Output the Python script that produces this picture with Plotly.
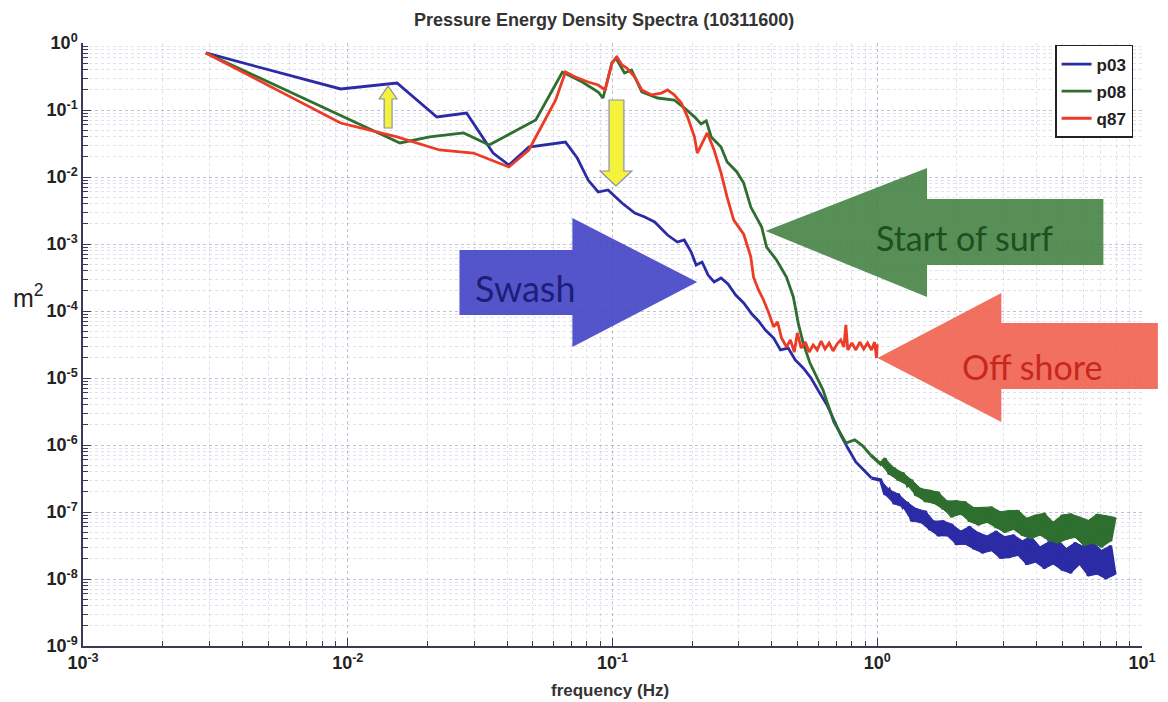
import plotly.graph_objects as go

# ---------------- data ----------------
p03_f = [2.91e-3, 9.4e-3, 1.535e-2, 2.17e-2, 2.81e-2, 3.54e-2, 4.06e-2, 4.83e-2, 6.64e-2, 7.36e-2,
         8.09e-2, 8.83e-2, 9.62e-2, 0.1086, 0.1214, 0.1324, 0.1443, 0.1614, 0.1758, 0.1866,
         0.1982, 0.207, 0.218, 0.2296, 0.242, 0.257, 0.273, 0.292, 0.313, 0.336,
         0.356, 0.378, 0.406, 0.431, 0.461, 0.490, 0.525, 0.562, 0.603, 0.646,
         0.686, 0.728, 0.774, 0.83, 0.889, 0.951]
p03_v = [0.71, 0.206, 0.253, 7.87e-2, 9.0e-2, 2.28e-2, 1.51e-2, 2.8e-2, 3.33e-2, 1.92e-2,
         9.0e-3, 5.97e-3, 6.4e-3, 4.09e-3, 2.9e-3, 2.53e-3, 2.13e-3, 1.36e-3, 1.07e-3, 1.15e-3,
         7.6e-4, 4.86e-4, 5.38e-4, 3.44e-4, 2.71e-4, 3.11e-4, 2.53e-4, 1.73e-4, 1.32e-4, 9.0e-5,
         7.1e-5, 5.2e-5, 3.95e-5, 2.62e-5, 2.8e-5, 1.86e-5, 1.41e-5, 1.0e-5, 6.2e-6, 3.95e-6,
         2.36e-6, 1.41e-6, 9.0e-7, 5.6e-7, 4.24e-7, 3.21e-7]

p08_f = [2.91e-3, 9.4e-3, 1.575e-2, 2.04e-2, 2.74e-2, 3.42e-2, 5.13e-2, 6.47e-2, 7.69e-2, 8.83e-2,
         9.21e-2, 9.95e-2, 0.103, 0.111, 0.118, 0.129, 0.148, 0.171, 0.187, 0.204,
         0.216, 0.226, 0.236, 0.257, 0.271, 0.295, 0.313, 0.333, 0.350, 0.366,
         0.382, 0.416, 0.454, 0.482, 0.503, 0.525, 0.557, 0.624, 0.686, 0.723,
         0.761, 0.822, 0.881, 0.944]
p08_v = [0.71, 8.4e-2, 3.22e-2, 3.96e-2, 4.54e-2, 3.0e-2, 7.1e-2, 0.369, 0.262, 0.186,
         0.151, 0.503, 0.597, 0.357, 0.395, 0.186, 0.151, 0.141, 0.107, 7.9e-2,
         6.2e-2, 6.9e-2, 3.96e-2, 2.8e-2, 1.67e-2, 1.19e-2, 8.1e-3, 3.56e-3, 2.53e-3, 1.79e-3,
         9.0e-4, 5.8e-4, 3.2e-4, 1.62e-4, 6.6e-5, 3.33e-5, 1.67e-5, 6.6e-6, 2.2e-6, 1.56e-6,
         1.07e-6, 1.19e-6, 9.7e-7, 7.1e-7]

# high-frequency (noisy) part shared by p03 and p08; values alternate peak / trough
f_hi = [1.03, 1.07, 1.11, 1.16, 1.2, 1.25, 1.3, 1.35, 1.4, 1.46,
        1.52, 1.58, 1.64, 1.7, 1.77, 1.84, 1.91, 1.99, 2.07, 2.15,
        2.23, 2.32, 2.41, 2.5, 2.6, 2.7, 2.81, 2.92, 3.03, 3.15,
        3.27, 3.4, 3.53, 3.67, 3.81, 3.96, 4.12, 4.28, 4.45, 4.62,
        4.8, 4.99, 5.18, 5.38, 5.59, 5.81, 6.04, 6.27, 6.52, 6.77,
        7.04, 7.31, 7.6, 7.9]
p03_hi = [3.0e-7, 1.82e-7, 2.15e-7, 1.32e-7, 1.86e-7, 1.19e-7, 1.39e-7, 7.3e-8, 1.13e-7, 6.95e-8,
          1.03e-7, 5.4e-8, 7.3e-8, 4.4e-8, 7.4e-8, 4.4e-8, 6.6e-8, 3.26e-8, 5.2e-8, 3.3e-8,
          6.1e-8, 2.79e-8, 4.93e-8, 2.44e-8, 4.4e-8, 2.64e-8, 5.2e-8, 2.03e-8, 4.3e-8, 2.08e-8,
          4.55e-8, 2.25e-8, 3.73e-8, 1.63e-8, 4.33e-8, 1.78e-8, 3.03e-8, 1.43e-8, 3.6e-8, 1.67e-8,
          3.9e-8, 1.35e-8, 2.87e-8, 1.22e-8, 3.5e-8, 1.63e-8, 3.05e-8, 1.11e-8, 3.5e-8, 1.18e-8,
          2.69e-8, 1.0e-8, 3.15e-8, 1.16e-8]
p08_hi = [5.2e-7, 6.3e-7, 3.66e-7, 4.52e-7, 2.97e-7, 3.84e-7, 2.52e-7, 3.0e-7, 1.76e-7, 2.24e-7,
          1.43e-7, 2.11e-7, 1.34e-7, 1.98e-7, 1.11e-7, 1.46e-7, 8.4e-8, 1.47e-7, 9.3e-8, 1.42e-7,
          7.2e-8, 1.16e-7, 6.4e-8, 1.17e-7, 7.0e-8, 1.19e-7, 5.8e-8, 1.01e-7, 4.94e-8, 1.05e-7,
          5.5e-8, 1.06e-7, 4.46e-8, 8.1e-8, 3.99e-8, 9.0e-8, 4.52e-8, 9.6e-8, 3.74e-8, 7.1e-8,
          3.44e-8, 9.0e-8, 3.9e-8, 9.4e-8, 4.2e-8, 8.4e-8, 3.13e-8, 7.5e-8, 3.42e-8, 9.3e-8,
          2.98e-8, 8.8e-8, 3.66e-8, 8.3e-8]

q87_f = [2.91e-3, 9.4e-3, 1.535e-2, 2.22e-2, 2.98e-2, 4.06e-2, 4.83e-2, 6.1e-2, 6.64e-2, 7.24e-2,
         8.09e-2, 8.83e-2, 9.38e-2, 9.95e-2, 0.104, 0.1086, 0.1133, 0.1214, 0.129, 0.1406,
         0.153, 0.1614, 0.171, 0.182, 0.192, 0.204, 0.209, 0.218, 0.228, 0.242,
         0.257, 0.271, 0.287, 0.313, 0.333, 0.341, 0.356, 0.372, 0.388, 0.406,
         0.42, 0.435, 0.454, 0.47, 0.486, 0.499, 0.516, 0.535, 0.553, 0.573,
         0.593, 0.614, 0.635, 0.658, 0.681, 0.705, 0.728, 0.748, 0.761, 0.774,
         0.802, 0.83, 0.859, 0.889, 0.919, 0.951, 0.977, 0.994, 1.0]
q87_v = [0.71, 6.4e-2, 3.96e-2, 2.53e-2, 2.28e-2, 1.41e-2, 2.53e-2, 0.141, 0.369, 0.311,
         0.262, 0.236, 0.199, 0.503, 0.618, 0.47, 0.424, 0.311, 0.199, 0.168,
         0.179, 0.199, 0.168, 0.127, 7.9e-2, 3.96e-2, 2.28e-2, 3.22e-2, 4.54e-2, 2.53e-2,
         1.15e-2, 5.0e-3, 2.28e-3, 1.4e-3, 6.4e-4, 3.2e-4, 2.06e-4, 1.46e-4, 9.7e-5, 5.8e-5,
         6.9e-5, 3.95e-5, 2.9e-5, 3.7e-5, 2.44e-5, 4.7e-5, 2.8e-5, 3.44e-5, 2.44e-5, 3.11e-5,
         2.62e-5, 3.56e-5, 2.71e-5, 3.33e-5, 2.53e-5, 3.21e-5, 3.7e-5, 2.9e-5, 6.2e-5, 2.62e-5,
         3.33e-5, 2.62e-5, 3.44e-5, 2.71e-5, 3.33e-5, 2.62e-5, 3.44e-5, 1.99e-5, 3.21e-5]

series_names = ["p03", "p08", "q87"]
series_colors = ["#2b2ba6", "#2e6e2e", "#ec3b26"]

x_tick_vals = [1e-3, 1e-2, 1e-1, 1e0, 1e1]
x_tick_text = ["10<sup>-3</sup>", "10<sup>-2</sup>", "10<sup>-1</sup>", "10<sup>0</sup>", "10<sup>1</sup>"]
y_tick_vals = [1e-9, 1e-8, 1e-7, 1e-6, 1e-5, 1e-4, 1e-3, 1e-2, 1e-1, 1e0]
y_tick_text = ["10<sup>-9</sup>", "10<sup>-8</sup>", "10<sup>-7</sup>", "10<sup>-6</sup>", "10<sup>-5</sup>",
               "10<sup>-4</sup>", "10<sup>-3</sup>", "10<sup>-2</sup>", "10<sup>-1</sup>", "10<sup>0</sup>"]

# ---------------- layout geometry ----------------
W, H = 1168, 702
PL, PR, PT, PB = 83, 1152, 43, 646


def to_paper(x, y):
    return (x - PL) / (PR - PL), (PB - y) / (PB - PT)


def poly(points):
    s = ""
    for i, (x, y) in enumerate(points):
        u, v = to_paper(x, y)
        s += ("M" if i == 0 else "L") + f"{u:.5f},{v:.5f} "
    return s + "Z"


fig = go.Figure()
lows = [(p03_f, p03_v), (p08_f, p08_v), (q87_f, q87_v)]
highs = [p03_hi, p08_hi, None]
for name, col, (fx, vy), hi in zip(series_names, series_colors, lows, highs):
    if hi is not None:
        # dense noise band: area between the peaks and the troughs of the noisy record
        band_x = f_hi[0::2] + f_hi[1::2][::-1]
        band_y = hi[0::2] + hi[1::2][::-1]
        fig.add_trace(go.Scatter(x=band_x, y=band_y, mode="lines", fill="toself", fillcolor=col,
                                 line=dict(color=col, width=1), legendgroup=name,
                                 showlegend=False, hoverinfo="skip"))
        fig.add_trace(go.Scatter(x=[fx[-1]] + f_hi, y=[vy[-1]] + hi, mode="lines", name=name,
                                 legendgroup=name, showlegend=False,
                                 line=dict(color=col, width=3.4)))
    fig.add_trace(go.Scatter(x=fx, y=vy, mode="lines", name=name, legendgroup=name,
                             line=dict(color=col, width=2.8)))

minor_x = [m * 10 ** e for e in range(-3, 1) for m in range(2, 10)]
minor_y = [m * 10 ** e for e in range(-9, 0) for m in range(2, 10)]
axis_col = "#3b3b58"
grid_major = "rgba(90,90,150,0.38)"
grid_minor = "rgba(120,120,175,0.22)"
tick_font = dict(family="Liberation Sans, Arial", size=18, color="#222222", weight="bold")

fig.update_xaxes(type="log", range=[-3, 1], tickvals=x_tick_vals, ticktext=x_tick_text,
                 showline=True, linecolor=axis_col, linewidth=1.5, ticks="inside", ticklen=8,
                 tickcolor=axis_col, showgrid=True, gridcolor=grid_major, griddash="dot",
                 zeroline=False, tickfont=tick_font, mirror=False,
                 minor=dict(tickvals=minor_x, ticks="inside", ticklen=5, tickcolor=axis_col,
                            showgrid=True, gridcolor=grid_minor, griddash="dot"))
fig.update_yaxes(type="log", range=[-9, 0], tickvals=y_tick_vals, ticktext=y_tick_text,
                 showline=True, linecolor=axis_col, linewidth=1.5, ticks="inside", ticklen=8,
                 tickcolor=axis_col, showgrid=True, gridcolor=grid_major, griddash="dot",
                 zeroline=False, tickfont=tick_font, mirror=False,
                 minor=dict(tickvals=minor_y, ticks="inside", ticklen=5, tickcolor=axis_col,
                            showgrid=True, gridcolor=grid_minor, griddash="dot"))

# ---------------- annotation arrows ----------------
shapes = []
# Swash (blue, pointing right)
shapes.append(dict(type="path", xref="paper", yref="paper", layer="above",
                   path=poly([(463, 250), (577, 250), (577, 218), (703, 282), (577, 347), (577, 315), (463, 315)]),
                   fillcolor="rgba(62,62,196,0.88)", line=dict(width=0)))
# Start of surf (green, pointing left)
shapes.append(dict(type="path", xref="paper", yref="paper", layer="above",
                   path=poly([(772, 231), (935, 168), (935, 199), (1113, 199), (1113, 265), (935, 265), (935, 297)]),
                   fillcolor="rgba(64,128,64,0.88)", line=dict(width=0)))
# Off shore (red, pointing left)
shapes.append(dict(type="path", xref="paper", yref="paper", layer="above",
                   path=poly([(885, 358), (1010, 293), (1010, 323), (1168, 323), (1168, 389), (1010, 389), (1010, 422)]),
                   fillcolor="rgba(240,96,78,0.9)", line=dict(width=0)))
# small yellow arrows
shapes.append(dict(type="path", xref="paper", yref="paper", layer="above",
                   path=poly([(387, 128), (387, 99), (382, 99), (391, 86), (400, 99), (395, 99), (395, 128)]),
                   fillcolor="#f4f23a", line=dict(color="#8a8fae", width=1.2)))
shapes.append(dict(type="path", xref="paper", yref="paper", layer="above",
                   path=poly([(614, 100), (629, 100), (629, 171), (637, 171), (621, 186), (605, 171), (614, 171)]),
                   fillcolor="#f4f23a", line=dict(color="#8a8fae", width=1.2)))
fig.update_layout(shapes=shapes)

annos = []


def add_text(x, y, text, size, color, family="Lato, Open Sans", weight="normal", anchor="center"):
    u, v = to_paper(x, y)
    annos.append(dict(x=u, y=v, xref="paper", yref="paper", text=text, showarrow=False,
                      xanchor=anchor, yanchor="middle",
                      font=dict(family=family, size=size, color=color, weight=weight)))


add_text(530, 288, "Swash", 36, "#1e1e78")
add_text(973, 238, "Start of surf", 34, "#1f4f1f")
add_text(1041, 366, "Off shore", 34, "#c8281c")
add_text(609, 20, "Pressure Energy Density Spectra (10311600)", 18, "#333333",
         family="Liberation Sans, Arial", weight="bold")
add_text(615, 690, "frequency (Hz)", 17, "#333333", family="Liberation Sans, Arial", weight="bold")
add_text(28, 296, "m<sup>2</sup>", 25, "#222222", family="Liberation Sans, Arial")
fig.update_layout(annotations=annos)

fig.update_layout(
    width=W, height=H,
    margin=dict(l=PL, r=W - PR, t=PT, b=H - PB),
    paper_bgcolor="white", plot_bgcolor="white",
    showlegend=True,
    legend=dict(x=0.9916, xanchor="right", y=0.9967, yanchor="top",
                bgcolor="white", bordercolor="#222222", borderwidth=1.5,
                font=dict(family="Liberation Sans, Arial", size=17, color="#222222", weight="bold"),
                tracegroupgap=2, itemwidth=30),
)

fig.write_html("out.html")
